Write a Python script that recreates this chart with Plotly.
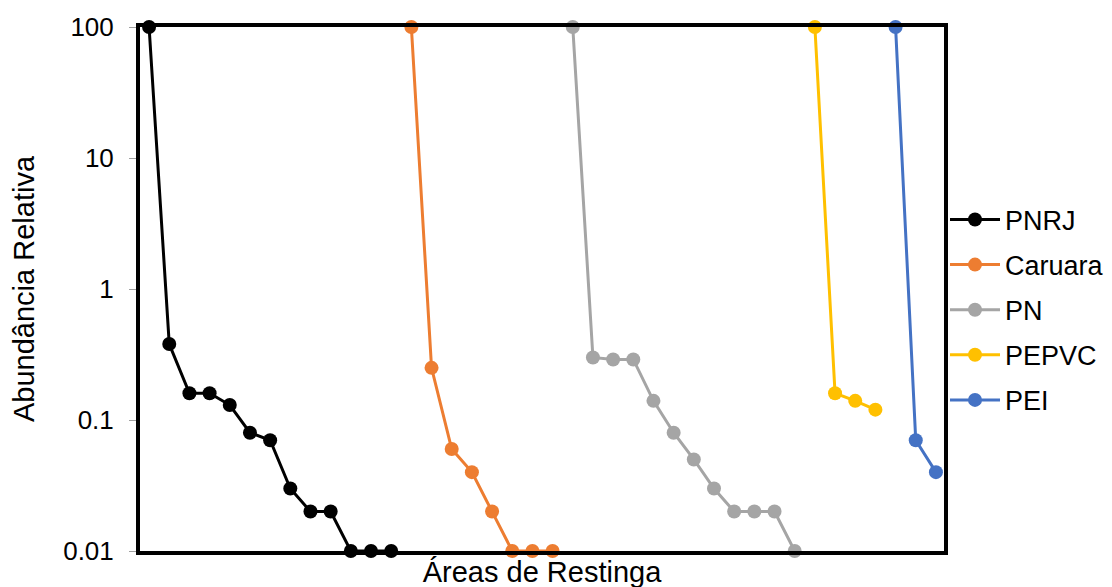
import plotly.graph_objects as go

series_names = ["PNRJ", "Caruara", "PN", "PEPVC", "PEI"]
pnrj = [100, 0.38, 0.16, 0.16, 0.13, 0.08, 0.07, 0.03, 0.02, 0.02, 0.01, 0.01, 0.01]
caruara = [100, 0.25, 0.06, 0.04, 0.02, 0.01, 0.01, 0.01]
pn = [100, 0.3, 0.29, 0.29, 0.14, 0.08, 0.05, 0.03, 0.02, 0.02, 0.02, 0.01]
pepvc = [100, 0.16, 0.14, 0.12]
pei = [100, 0.07, 0.04]
colors = ["#000000", "#ED7D31", "#A5A5A5", "#FFC000", "#4472C4"]
y_ticks = [0.01, 0.1, 1, 10, 100]
y_tick_labels = ["0.01", "0.1", "1", "10", "100"]

all_series = [pnrj, caruara, pn, pepvc, pei]

fig = go.Figure()
start = 1
for name, vals, col in zip(series_names, all_series, colors):
    xs = list(range(start, start + len(vals)))
    start += len(vals)
    fig.add_trace(go.Scatter(
        x=xs, y=vals, name=name, mode="lines+markers",
        line=dict(color=col, width=3),
        marker=dict(color=col, size=14),
        cliponaxis=False, legendgroup=name,
    ))

font_family = "Liberation Sans, Arial, sans-serif"
fig.update_layout(
    width=1112, height=587,
    margin=dict(l=132, r=175, t=19, b=44),
    paper_bgcolor="white", plot_bgcolor="white",
    font=dict(family=font_family, color="#000000", size=26),
    showlegend=True,
    legend=dict(x=1.0, y=0.46, xanchor="left", yanchor="middle",
                font=dict(size=27), tracegroupgap=7, itemwidth=50,
                bgcolor="rgba(0,0,0,0)"),
)
fig.update_xaxes(
    range=[0.55, 40.4], showticklabels=False, showgrid=False, zeroline=False,
    showline=True, mirror=True, linecolor="#000000", linewidth=4, ticks="",
    title=dict(text="Áreas de Restinga", font=dict(size=29), standoff=9),
    automargin=False,
)
fig.update_yaxes(
    type="log", range=[-2, 2], tickvals=y_ticks, ticktext=y_tick_labels,
    showgrid=False, zeroline=False,
    showline=True, mirror=True, linecolor="#000000", linewidth=4,
    ticks="outside", ticklen=7, tickcolor="#A0A0A0", tickwidth=1,
    tickfont=dict(size=26), ticklabelstandoff=10,
    title=dict(text="Abundância Relativa", font=dict(size=29), standoff=23),
    automargin=False,
)
fig.write_html("out.html")
